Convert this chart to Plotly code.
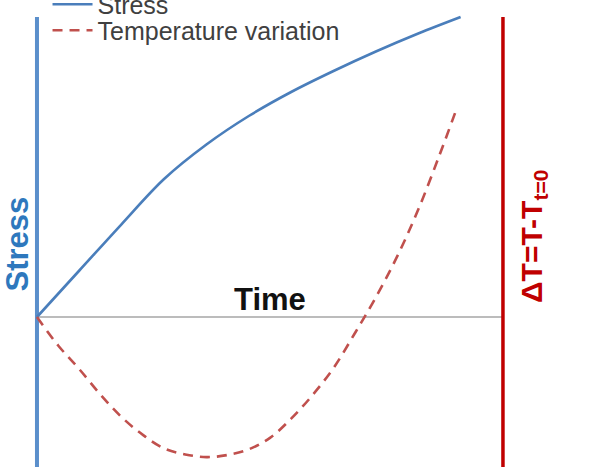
import plotly.graph_objects as go

# ---- data (arbitrary units) ----
time = [0, 1, 2, 3, 4, 5, 6, 7, 8, 9, 10]
stress = [0, 1.55, 3.1, 4.6, 5.75, 6.7, 7.5, 8.2, 8.85, 9.45, 10.0]

time_T = [0, 0.5, 1, 1.5, 2, 2.5, 3, 3.5, 4, 4.5, 5, 5.5, 6, 6.5, 7, 7.5, 8, 8.5, 9, 9.5, 9.9]
temp_var = [0, -0.95, -1.74, -2.59, -3.34, -3.93, -4.38, -4.58, -4.67, -4.6, -4.41,
            -4.03, -3.39, -2.61, -1.70, -0.55, 0.66, 2.01, 3.58, 5.39, 6.92]

t_end = 11          # right axis position
y_top = 10          # top of the axis lines
y_bottom = -5

fig = go.Figure()
fig.add_trace(go.Scatter(x=time, y=stress, mode="lines", name="Stress",
                         line=dict(color="#4a7ebb", width=2.6, shape="spline", smoothing=1.0),
                         legend="legend"))
fig.add_trace(go.Scatter(x=time_T, y=temp_var, mode="lines", name="Temperature variation",
                         line=dict(color="#c0504d", width=2.6, dash="10px,7px", shape="spline", smoothing=1.0),
                         legend="legend2"))

# axes drawn as lines
fig.add_shape(type="line", x0=0, x1=t_end, y0=0, y1=0, xref="x", yref="y",
              line=dict(color="#a6a6a6", width=1.6), layer="below")
fig.add_shape(type="line", x0=0, x1=0, y0=y_bottom, y1=y_top, xref="x", yref="y",
              line=dict(color="#5b8fcb", width=4), layer="below")
fig.add_shape(type="line", x0=t_end, x1=t_end, y0=y_bottom, y1=y_top, xref="x", yref="y",
              line=dict(color="#c00000", width=3.5), layer="below")

fig.add_annotation(x=t_end / 2, y=0, yanchor="bottom", yshift=-2, xref="x", yref="y",
                   text="<b>Time</b>", showarrow=False,
                   font=dict(family="Liberation Sans, Arial", size=31, color="#111111"))
fig.add_annotation(x=0, y=2.45, xref="x", yref="y", xanchor="center", yanchor="middle", xshift=-19,
                   text="<b>Stress</b>", textangle=-90, showarrow=False,
                   font=dict(family="Liberation Sans, Arial", size=31, color="#2e78bd"))
fig.add_annotation(x=t_end, y=2.7, xref="x", yref="y", xanchor="center", yanchor="middle", xshift=30,
                   text="<b>ΔT=T-T<sub>t=0</sub></b>", textangle=-90, showarrow=False,
                   font=dict(family="Liberation Sans, Arial", size=30, color="#c00000"))

leg_font = dict(family="Liberation Sans, Arial", size=25, color="#404040")
fig.update_layout(
    width=594, height=467,
    margin=dict(l=0, r=0, t=0, b=0, autoexpand=False),
    paper_bgcolor="white", plot_bgcolor="white",
    showlegend=True,
    legend=dict(x=0.08, y=1.0396, xanchor="left", yanchor="top", bgcolor="rgba(0,0,0,0)",
                font=leg_font, itemwidth=40),
    legend2=dict(x=0.08, y=0.984, xanchor="left", yanchor="top", bgcolor="rgba(0,0,0,0)",
                 font=leg_font, itemwidth=40),
    xaxis=dict(range=[-0.873, 13.149], visible=False, fixedrange=True),
    yaxis=dict(range=[-5.0, 10.567], visible=False, fixedrange=True),
)

fig.write_html("out.html")
